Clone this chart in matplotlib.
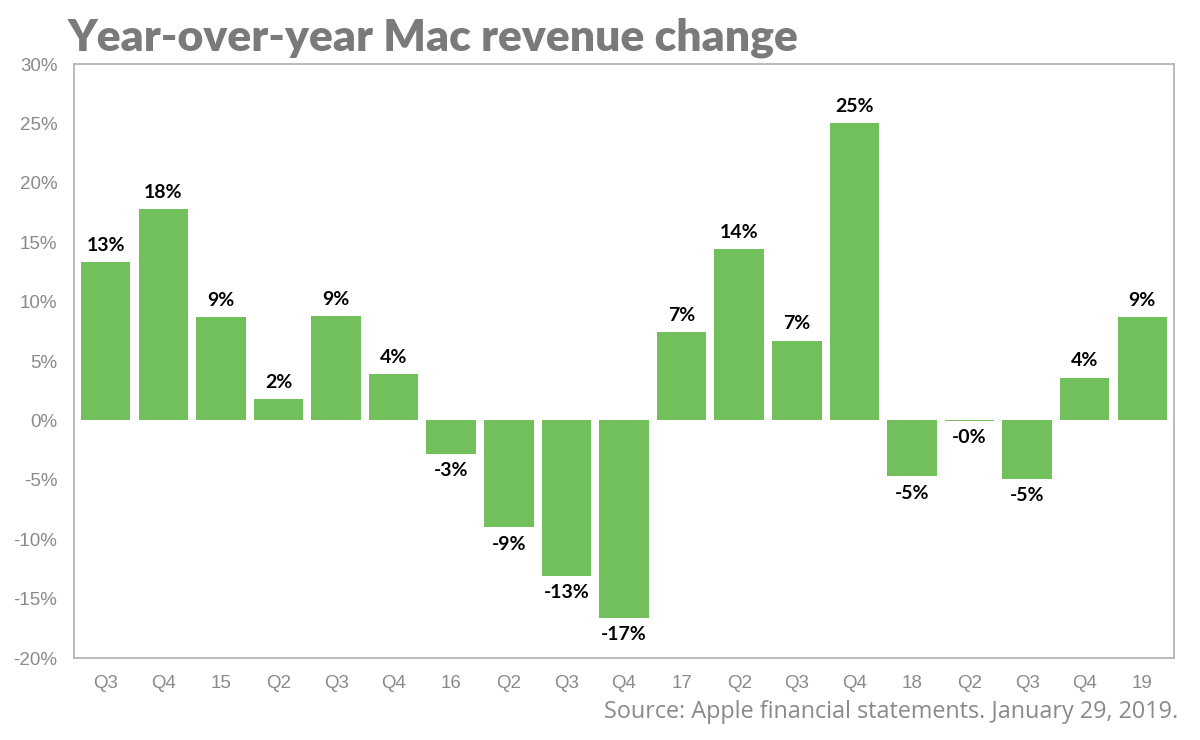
import matplotlib
matplotlib.use("Agg")
import matplotlib.pyplot as plt

# Quarter labels and year-over-year change (%)
quarters = ['Q3', 'Q4', '15', 'Q2', 'Q3', 'Q4', '16', 'Q2', 'Q3', 'Q4',
            '17', 'Q2', 'Q3', 'Q4', '18', 'Q2', 'Q3', 'Q4', '19']
change = [13.3, 17.8, 8.7, 1.8, 8.8, 3.9, -2.8, -9.0, -13.1, -16.6,
          7.4, 14.4, 6.7, 25.0, -4.7, -0.04, -4.9, 3.6, 8.7]
yticks = [-20, -15, -10, -5, 0, 5, 10, 15, 20, 25, 30]

bar_color = '#72c05b'
gray = '#8a8a8a'

fig = plt.figure(figsize=(12, 7.4), dpi=100)
ax = fig.add_axes([0.0617, 0.1108, 0.9166, 0.8027])

x = range(len(quarters))
ax.bar(x, change, width=0.86, color=bar_color)

# value labels above / below each bar
for i, v in enumerate(change):
    label = f"{v:.0f}%"
    if v >= 0:
        ax.annotate(label, (i, v), xytext=(0, 6), textcoords='offset points',
                    ha='center', va='bottom', fontsize=14, fontweight='bold',
                    family='Lato', color='black')
    else:
        ax.annotate(label, (i, v), xytext=(0, -6), textcoords='offset points',
                    ha='center', va='top', fontsize=14, fontweight='bold',
                    family='Lato', color='black')

ax.set_xlim(-0.55, len(quarters) - 0.45)
ax.set_ylim(-20, 30)
ax.set_yticks(yticks)
ax.set_yticklabels([f"{t}%" for t in yticks])
ax.set_xticks(list(x))
ax.set_xticklabels(quarters)
ax.tick_params(axis='both', length=0, colors=gray, labelsize=13.5)
ax.tick_params(axis='y', pad=12)
ax.tick_params(axis='x', pad=12)
for lab in ax.get_xticklabels() + ax.get_yticklabels():
    lab.set_family('Liberation Sans')

for s in ax.spines.values():
    s.set_color('#b0b0b0')
    s.set_linewidth(1.2)

fig.text(0.056, 0.922, 'Year-over-year Mac revenue change', fontsize=32,
         fontweight='heavy', family='Lato', color='#7a7a7a', ha='left', va='bottom')
fig.text(0.982, 0.022, 'Source: Apple financial statements. January 29, 2019.',
         fontsize=16.8, family='Open Sans', color=gray, ha='right', va='bottom')

fig.savefig('out.png', dpi=100)
